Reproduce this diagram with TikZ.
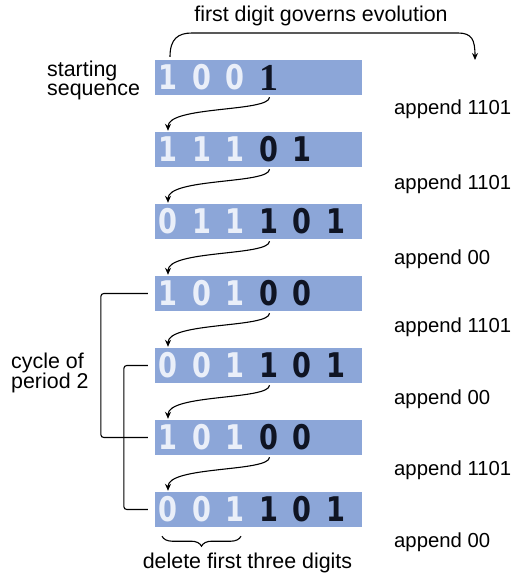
\documentclass[tikz,border=0pt]{standalone}
\usepackage{fontspec}
\usepackage{graphicx}
\setmainfont{Liberation Sans}
\newfontfamily\digfont{DejaVu Sans}
\newfontfamily\serifdig{Liberation Serif}
\usetikzlibrary{calc,decorations.pathreplacing,arrows.meta}
\definecolor{barblue}{RGB}{140,166,216}
\definecolor{litdig}{RGB}{234,239,249}
\definecolor{darkdig}{RGB}{15,20,35}
\newcommand\dscale[1]{\scalebox{0.8}[1]{#1}}
\newcommand\digrow[3]{%
  \foreach \d [count=\i] in {#3} {%
    \ifnum\i<4
      \node[lt] (#1-\i) at ({168+33.5*(\i-1)},#2) {\dscale{\d}};
    \else
      \node[dk] (#1-\i) at ({168+33.5*(\i-1)},#2) {\dscale{\d}};
    \fi}}
\begin{document}
\begin{tikzpicture}[x=1pt,y=-1pt,
  bar/.style={fill=barblue,draw=none,minimum width=207pt,minimum height=35pt,inner sep=0pt},
  lt/.style={text=litdig,font=\digfont\bfseries\fontsize{34}{34}\selectfont,inner sep=0pt},
  dk/.style={text=darkdig,font=\digfont\bfseries\fontsize{34}{34}\selectfont,inner sep=0pt},
  lbl/.style={font=\fontsize{21.4}{20}\selectfont,inner sep=0pt},
  albl/.style={font=\fontsize{20.3}{20}\selectfont,inner sep=0pt,anchor=base west},
  conn/.style={line width=1.1pt,-{Stealth[length=7pt,width=6pt]}},
  brk/.style={line width=1.1pt,rounded corners=3pt}]
\useasboundingbox (0,0) rectangle (522,575);
\fill[white] (0,0) rectangle (522,575);
% bars
\node[bar] (r1) at (258.5,77.5) {};
\node[bar] (r2) at (258.5,149.5) {};
\node[bar] (r3) at (258.5,221.5) {};
\node[bar] (r4) at (258.5,293.5) {};
\node[bar] (r5) at (258.5,365.5) {};
\node[bar] (r6) at (258.5,437.5) {};
\node[bar] (r7) at (258.5,509.5) {};
% digits
\digrow{r1}{77.5}{1,0,0}
\node[dk,font=\serifdig\bfseries\fontsize{38}{38}\selectfont] (r1-4) at (268.5,78) {1};
\digrow{r2}{149.5}{1,1,1,0,1}
\digrow{r3}{221.5}{0,1,1,1,0,1}
\digrow{r4}{293.5}{1,0,1,0,0}
\digrow{r5}{365.5}{0,0,1,1,0,1}
\digrow{r6}{437.5}{1,0,1,0,0}
\digrow{r7}{509.5}{0,0,1,1,0,1}
% evolution arrows
\foreach \a/\b in {r1/r2,r2/r3,r3/r4,r4/r5,r5/r6,r6/r7}
  \draw[conn] ($(\a-4 |- \a.south)+(1,2)$) .. controls +(0,15) and +(0,-25) .. ($(\b-1 |- \b.north)+(0,-1)$);
% top arrow
\coordinate (evo) at (475,60);
\node[lbl,anchor=base] (title) at (321,22) {first digit governs evolution};
\draw[conn] ($(r1-1 |- r1.north)+(2,-3)$) .. controls +(0,-18) and +(-14,0) .. (192,33) -- (458,33) .. controls +(14,0) and +(0,-20) .. (evo);
% labels
\node[lbl,anchor=base west,align=left] (start) at (47,96) {starting\\sequence};
\node[lbl,anchor=base west,align=left] (cyc) at (11,388) {cycle of\\period 2};
\node[albl] (ap1) at (394,114.5) {append 1101};
\node[albl] (ap2) at (394,189) {append 1101};
\node[albl] (ap3) at (394,264) {append 00};
\node[albl] (ap4) at (394,332) {append 1101};
\node[albl] (ap5) at (394,404) {append 00};
\node[albl] (ap6) at (394,475) {append 1101};
\node[albl] (ap7) at (394,547) {append 00};
% cycle brackets
\draw[brk] ($(r4.west)+(-7,0)$) -- ++(-47,0) |- ($(r6.west)+(-7,0)$);
\draw[brk] ($(r5.west)+(-7,0)$) -- ++(-24,0) |- ($(r7.west)+(-7,0)$);
% delete brace
\draw[line width=1.1pt,decorate,decoration={brace,mirror,amplitude=10pt}] ($(r7-1 |- r7.south)+(-6,9)$) -- ($(r7-3 |- r7.south)+(6,9)$);
\node[lbl,anchor=base] (del) at (247.5,568) {delete first three digits};
\end{tikzpicture}
\end{document}
